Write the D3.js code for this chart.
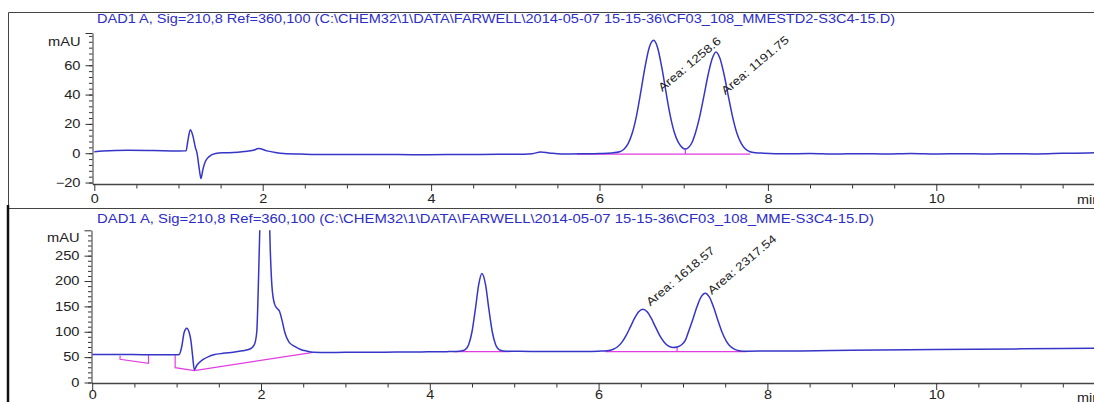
<!DOCTYPE html>
<html>
<head>
<meta charset="utf-8">
<script src="https://cdn.jsdelivr.net/npm/d3@7"></script>
<style>
body { margin: 0; background: #fff; }
svg text { font-family: "Liberation Sans", Arial, sans-serif; }
</style>
</head>
<body>
<svg width="1094" height="402"></svg>
<script>
// titles of the two runs
var titleStd = "DAD1 A, Sig=210,8 Ref=360,100 (C:\\CHEM32\\1\\DATA\\FARWELL\\2014-05-07 15-15-36\\CF03_108_MMESTD2-S3C4-15.D)"
var titleSample = "DAD1 A, Sig=210,8 Ref=360,100 (C:\\CHEM32\\1\\DATA\\FARWELL\\2014-05-07 15-15-36\\CF03_108_MME-S3C4-15.D)"

// [time min, mAU]
var stdTrace = [
  [0, 1.0], [0.1, 1.5], [0.4, 2.0], [0.7, 1.8], [1.0, 1.5], [1.09, 1.6], [1.11, 8], [1.14, 16],
  [1.17, 12], [1.2, 4], [1.22, 0], [1.245, -10], [1.267, -17.3], [1.29, -11], [1.32, -5.5],
  [1.36, -2.5], [1.44, -0.2], [1.55, 0.3], [1.65, 0.5], [1.78, 1.2], [1.89, 2], [1.95, 3.2],
  [2.05, 1.6], [2.15, 0.5], [2.25, -0.2], [2.45, -0.6], [2.64, -0.9], [3.0, -0.9], [3.4, -0.8],
  [3.8, -1.0], [4.2, -0.9], [4.6, -0.8], [5.0, -0.7], [5.2, -0.3], [5.3, 0.8], [5.4, 0.2],
  [5.55, -0.5], [5.8, -0.4], [6.0, -0.2], [6.15, 0.2], [6.24, 1.0], [6.29, 2.7], [6.34, 6.5],
  [6.39, 13.9], [6.44, 25.7], [6.49, 41.6], [6.54, 58.5], [6.59, 71.9], [6.643, 77], [6.69, 72],
  [6.74, 58.5], [6.79, 41.6], [6.84, 25.7], [6.89, 14], [6.94, 7], [6.98, 4], [7.02, 2.8],
  [7.06, 4], [7.1, 7.5], [7.14, 14], [7.19, 25], [7.24, 39], [7.29, 53.5], [7.34, 64.7],
  [7.384, 69], [7.43, 64.7], [7.48, 53.5], [7.53, 39], [7.58, 25], [7.63, 14], [7.68, 7],
  [7.73, 3], [7.78, 1.2], [7.85, 0.3], [7.95, 0], [8.2, -0.4], [8.5, -0.2], [8.8, -0.6],
  [9.1, -0.3], [9.4, -0.5], [9.7, -0.2], [10.0, -0.5], [10.3, -0.3], [10.6, -0.6], [10.9, -0.3],
  [11.2, -0.5], [11.5, -0.1], [11.8, 0.2], [11.95, 0.4]
]
var stdBaselines = [
  [[5.73, -0.6], [7.79, -0.6]]
]
var stdDrops = [[7.02, -0.6, 2.8]]
var stdAreas = [
  {t: 6.746, v: 41.7, text: "Area: 1258.6"},
  {t: 7.494, v: 39.5, text: "Area: 1191.75"}
]

// [time min, mAU]
var sampleTrace = [
  [0, 55], [0.3, 55.3], [0.6, 54.8], [0.9, 54.5], [1.0, 54.5], [1.03, 55], [1.06, 70], [1.09, 99],
  [1.12, 107], [1.15, 98], [1.17, 82], [1.19, 52], [1.21, 25], [1.24, 34], [1.28, 41], [1.32, 46],
  [1.38, 51], [1.44, 54.5], [1.55, 57.5], [1.67, 59.8], [1.78, 62.5], [1.87, 66], [1.92, 74],
  [1.95, 100], [1.97, 200], [1.99, 330], [2.02, 500], [2.05, 560], [2.08, 450], [2.11, 260],
  [2.13, 189], [2.16, 155], [2.19, 146], [2.22, 140], [2.25, 122], [2.28, 100], [2.33, 80],
  [2.4, 71], [2.47, 65], [2.54, 62], [2.62, 59.8], [2.8, 59.2], [3.0, 59.4], [3.3, 59.6],
  [3.6, 60], [3.9, 60.3], [4.2, 60.8], [4.3, 61.2], [4.37, 61.9], [4.42, 64.8], [4.46, 74.5],
  [4.5, 100], [4.54, 144.5], [4.58, 193.5], [4.617, 215], [4.66, 193.5], [4.7, 144.5],
  [4.74, 100], [4.78, 74.5], [4.82, 65], [4.87, 62.2], [4.95, 61.5], [5.2, 61.3], [5.5, 61.2],
  [5.8, 61.3], [6.0, 61.8], [6.1, 62.5], [6.175, 65.5], [6.225, 70.4], [6.275, 79], [6.325, 92.3],
  [6.375, 109], [6.425, 126.3], [6.475, 139.5], [6.525, 144.5], [6.575, 139.5], [6.625, 126.3],
  [6.675, 109], [6.725, 92.3], [6.775, 80], [6.825, 72], [6.88, 69], [6.93, 70], [6.98, 74],
  [7.03, 84], [7.063, 99], [7.113, 122.7], [7.163, 148.2], [7.213, 168.3], [7.263, 176],
  [7.313, 168.3], [7.363, 148.2], [7.413, 122.7], [7.463, 99.1], [7.513, 81.6], [7.563, 70.8],
  [7.613, 65.3], [7.663, 62.8], [7.76, 61.8], [8.0, 62], [8.4, 62.2], [9.0, 63.5], [10.0, 65],
  [11.0, 66.3], [11.95, 67.5]
]
var sampleBaselines = [
  [[0.33, 52.9], [0.33, 45.7], [0.667, 37.7], [0.667, 54.2]],
  [[0.983, 53.8], [0.983, 29.2], [1.21, 23.5], [2.6, 58.8]],
  [[4.28, 60.8], [4.95, 60.8]],
  [[6.08, 60.8], [7.76, 60.8]]
]
var sampleDrops = [[6.93, 60.8, 70]]
var sampleAreas = [
  {t: 6.611, v: 149.6, text: "Area: 1618.57"},
  {t: 7.342, v: 172.6, text: "Area: 2317.54"}
]

var timeTicks = [0, 2, 4, 6, 8, 10]
var stdTicks = [-20, 0, 20, 40, 60]
var sampleTicks = [0, 50, 100, 150, 200, 250]

var svg = d3.select("svg")

// the printout text is a bit wider than Arial, stretch it
function widen(sel, k) {
  sel.each(function() {
    var w = this.getComputedTextLength()
    d3.select(this).attr("textLength", w * k).attr("lengthAdjust", "spacingAndGlyphs")
  })
}

// frames
svg.append("path").attr("d", "M1094,12.5H8.5V208.5H1094")
  .attr("fill", "none").attr("stroke", "#444").attr("stroke-width", 1)
svg.append("line").attr("x1", 8).attr("x2", 8).attr("y1", 205).attr("y2", 402)
  .attr("stroke", "#111").attr("stroke-width", 2.5)

drawPanel({
  id: "std", title: titleStd, titleW: 798, titleY: 22.5, axisX: 92.5, x0: 94.3, pxPerMin: 84.2,
  yDomain: [-21, 82], yRange: [184, 33], ticks: stdTicks, minorStep: 4, mauY: 42,
  xPad: 3.5, minY: 203.5,
  trace: stdTrace, baselines: stdBaselines, drops: stdDrops, areas: stdAreas
})
drawPanel({
  id: "sample", title: titleSample, titleW: 777, titleY: 222.5, axisX: 91.5, x0: 92.2, pxPerMin: 84.4,
  yDomain: [-1, 300], yRange: [383, 230.3], ticks: sampleTicks, minorStep: 10, mauY: 238,
  xPad: 0.5, minY: 401.5,
  trace: sampleTrace, baselines: sampleBaselines, drops: sampleDrops, areas: sampleAreas
})

function drawPanel(p) {
  var t0 = -(p.x0 - p.axisX) / p.pxPerMin
  var x = d3.scaleLinear().domain([t0, 11.95]).range([p.axisX, p.x0 + 11.95 * p.pxPerMin])
  var y = d3.scaleLinear().domain(p.yDomain).range(p.yRange)
  var g = svg.append("g")

  g.append("text").attr("x", 97).attr("y", p.titleY)
    .attr("fill", "#2d2dc8").style("font-size", "13px")
    .attr("textLength", p.titleW).attr("lengthAdjust", "spacingAndGlyphs").text(p.title)

  g.append("clipPath").attr("id", "clip-" + p.id).append("rect")
    .attr("x", p.axisX).attr("y", p.yRange[1]).attr("width", 1100 - p.axisX)
    .attr("height", p.yRange[0] - p.yRange[1])

  // minor x ticks
  var minorT = d3.range(0.5, 12, 0.5).filter(d => d % 2 != 0)
  g.append("g").attr("transform", "translate(0," + p.yRange[0] + ")")
    .call(d3.axisBottom(x).tickValues(minorT).tickSize(4.5).tickFormat(""))
    .call(a => a.select(".domain").remove())
    .selectAll("line").attr("stroke", "#333")
  // major x ticks
  var xa = g.append("g").attr("transform", "translate(0," + p.yRange[0] + ")")
    .call(d3.axisBottom(x).tickValues(timeTicks).tickSize(7).tickPadding(p.xPad).tickSizeOuter(0))
  xa.select(".domain").attr("stroke", "#444").attr("stroke-width", 1.6)
  xa.selectAll("line").attr("stroke", "#333")
  xa.selectAll("text").attr("fill", "#222").style("font-size", "12px").call(widen, 1.2)
  g.append("text").attr("x", 1077).attr("y", p.minY)
    .attr("fill", "#222").style("font-size", "12px").text("min").call(widen, 1.2)

  // y axis
  var minorY = d3.range(Math.ceil(p.yDomain[0] / p.minorStep) * p.minorStep, p.yDomain[1], p.minorStep)
  g.append("g").attr("transform", "translate(" + p.axisX + ",0)")
    .call(d3.axisLeft(y).tickValues(minorY).tickSize(3.5).tickFormat(""))
    .call(a => a.select(".domain").remove())
    .selectAll("line").attr("stroke", "#333")
  var ya = g.append("g").attr("transform", "translate(" + p.axisX + ",0)")
    .call(d3.axisLeft(y).tickValues(p.ticks).tickSize(7).tickPadding(5).tickSizeOuter(0))
  ya.select(".domain").attr("stroke", "#333")
  ya.selectAll("line").attr("stroke", "#333")
  ya.selectAll("text").attr("fill", "#222").style("font-size", "12px").call(widen, 1.22)
  g.append("line").attr("x1", p.axisX - 7).attr("x2", p.axisX)
    .attr("y1", p.yRange[1] + 0.5).attr("y2", p.yRange[1] + 0.5).attr("stroke", "#333")
  g.append("text").attr("x", p.axisX - 12).attr("y", p.mauY).attr("dy", "0.35em")
    .attr("text-anchor", "end").attr("fill", "#222").style("font-size", "12px").text("mAU")
    .call(widen, 1.22)

  var plot = g.append("g").attr("clip-path", "url(#clip-" + p.id + ")")

  // integration baselines
  var bl = d3.line().x(d => x(d[0])).y(d => y(d[1]))
  plot.selectAll("path.base").data(p.baselines).enter().append("path")
    .attr("class", "base").attr("d", bl)
    .attr("fill", "none").attr("stroke", "#e23ce2").attr("stroke-width", 1.2)
  plot.selectAll("line.drop").data(p.drops).enter().append("line")
    .attr("x1", d => x(d[0])).attr("x2", d => x(d[0]))
    .attr("y1", d => y(d[1])).attr("y2", d => y(d[2]))
    .attr("stroke", "#e23ce2").attr("stroke-width", 1.2)

  // signal
  var line = d3.line().x(d => x(d[0])).y(d => y(d[1])).curve(d3.curveMonotoneX)
  plot.append("path").datum(p.trace).attr("d", line)
    .attr("fill", "none").attr("stroke", "#3535c8").attr("stroke-width", 1.5)

  // area labels
  g.selectAll("text.area").data(p.areas).enter().append("text")
    .attr("class", "area")
    .attr("transform", d => "translate(" + x(d.t) + "," + y(d.v) + ") rotate(-40)")
    .attr("fill", "#222").style("font-size", "11.5px").text(d => d.text)
    .call(widen, 1.18)
}
</script>
</body>
</html>
